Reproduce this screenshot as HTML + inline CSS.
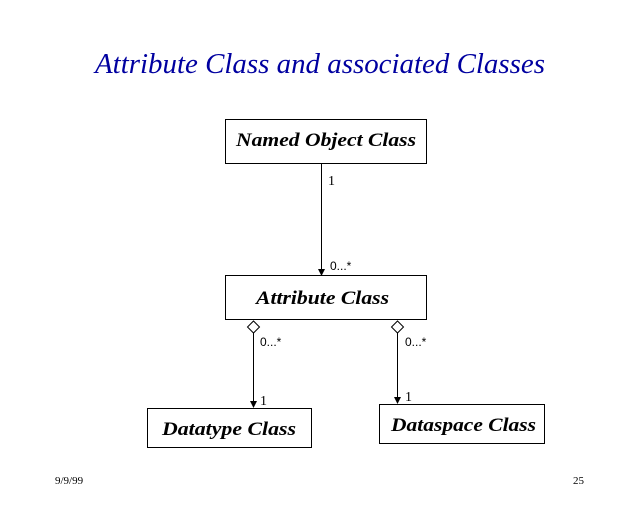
<!DOCTYPE html>
<html><head><meta charset="utf-8"><style>html,body{margin:0;padding:0;background:#fff}svg{display:block}</style></head>
<body>
<svg width="640" height="512" viewBox="0 0 640 512" xmlns="http://www.w3.org/2000/svg">
<rect width="640" height="512" fill="#fff"/>
<text x="95" y="73" font-family="Liberation Serif, serif" font-style="italic" font-size="29" fill="#0000a0" textLength="450" lengthAdjust="spacingAndGlyphs">Attribute Class and associated Classes</text>
<g fill="none" stroke="#000" stroke-width="1">
<rect x="225.5" y="119.5" width="201" height="44"/>
<rect x="225.5" y="275.5" width="201" height="44"/>
<rect x="147.5" y="408.5" width="164" height="39"/>
<rect x="379.5" y="404.5" width="165" height="39"/>
<line x1="321.5" y1="164" x2="321.5" y2="270"/>
<line x1="253.5" y1="333" x2="253.5" y2="402"/>
<line x1="397.5" y1="333" x2="397.5" y2="398"/>
<polygon points="253.5,321 259.5,327 253.5,333 247.5,327" fill="#fff"/>
<polygon points="397.5,321 403.5,327 397.5,333 391.5,327" fill="#fff"/>
</g>
<polygon points="318,269 325,269 321.5,276" fill="#000"/>
<polygon points="250,401 257,401 253.5,408" fill="#000"/>
<polygon points="394,397 401,397 397.5,404" fill="#000"/>
<g font-family="Liberation Serif, serif" font-style="italic" font-weight="bold" font-size="19" fill="#000">
<text x="236" y="146" textLength="180" lengthAdjust="spacingAndGlyphs">Named Object Class</text>
<text x="256" y="304" textLength="133" lengthAdjust="spacingAndGlyphs">Attribute Class</text>
<text x="162" y="435" textLength="134" lengthAdjust="spacingAndGlyphs">Datatype Class</text>
<text x="391" y="431" textLength="145" lengthAdjust="spacingAndGlyphs">Dataspace Class</text>
</g>
<g font-family="Liberation Sans, sans-serif" font-size="12" fill="#000">
<text x="330" y="270">0...*</text>
<text x="260" y="346">0...*</text>
<text x="405" y="346">0...*</text>
</g>
<g font-family="Liberation Serif, serif" font-size="14" fill="#000">
<text x="328" y="185">1</text>
<text x="260" y="405">1</text>
<text x="405" y="401">1</text>
</g>
<g font-family="Liberation Serif, serif" font-size="11" fill="#000">
<text x="55" y="484">9/9/99</text>
<text x="573" y="484">25</text>
</g>
</svg>
</body></html>
